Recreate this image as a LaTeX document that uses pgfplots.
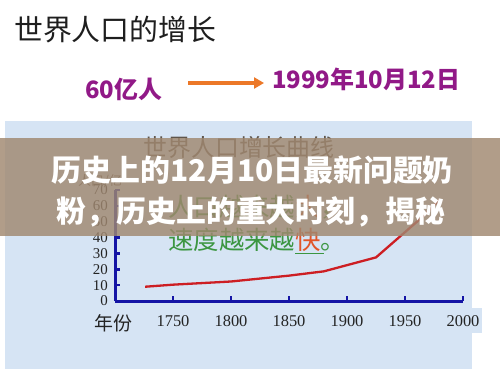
\documentclass[border=0pt]{standalone}
\usepackage{pgfplots}
\pgfplotsset{compat=1.18}
\usetikzlibrary{arrows.meta}
\usepackage{fontspec}
\newfontfamily\cjk{Noto Sans CJK SC}
\newfontfamily\serif{Liberation Serif}
\definecolor{panelblue}{RGB}{214,228,244}
\definecolor{bandc}{RGB}{160,136,112}
\definecolor{mag}{RGB}{145,25,135}
\definecolor{arrowor}{RGB}{236,120,40}
\definecolor{axisblue}{RGB}{20,20,165}
\definecolor{curvered}{RGB}{205,30,35}
\definecolor{greentxt}{RGB}{60,150,65}
\definecolor{oran}{RGB}{225,85,40}
\definecolor{charttitle}{RGB}{95,85,75}
\definecolor{ticktxt}{RGB}{35,35,35}
\begin{document}
\begin{tikzpicture}[x=1bp,y=1bp]
\useasboundingbox (0,0) rectangle (500,375);
\fill[white] (0,0) rectangle (500,375);
% light blue panel
\fill[panelblue] (5,6) rectangle (472,254);
\fill[panelblue] (472,42) rectangle (482,67);
% top texts
\node[anchor=west, inner sep=0pt, text={rgb,255:red,30;green,30;blue,30}, font=\cjk\fontsize{29}{29}\selectfont] at (14,345) {世界人口的增长};
\node[anchor=west, inner sep=0pt, text=mag, font=\cjk\bfseries\fontsize{24}{24}\selectfont] at (85,286) {60亿人};
\draw[arrowor, line width=3.5bp, -{Triangle[length=10bp,width=11bp]}] (188,292) -- (264,292);
\node[anchor=west, inner sep=0pt, text=mag, font=\cjk\bfseries\fontsize{24}{24}\selectfont] at (272,296) {1999年10月12日};
% chart title
\node[inner sep=0pt, text=charttitle, font=\cjk\fontsize{24}{24}\selectfont] at (239,228) {世界人口增长曲线};
\node[inner sep=0pt, text=charttitle, font=\cjk\fontsize{13}{13}\selectfont] at (100,194) {人口/亿};
% chart
\begin{axis}[
  at={(115bp,74bp)}, anchor=origin,
  scale only axis, width=348bp, height=111bp,
  xmin=1700, xmax=2000, ymin=0, ymax=70,
  axis lines=left,
  axis line style={-, draw=axisblue, line width=3bp},
  xtick={1750,1800,1850,1900,1950,2000},
  ytick={0,10,20,30,40,50,60,70},
  tick align=inside,
  major tick length=5bp,
  tick style={draw=axisblue, line width=2.5bp},
  /pgf/number format/assume math mode=true,
  /pgf/number format/1000 sep={},
  xticklabel style={inner sep=0pt, yshift=-14bp, font=\serif\fontsize{16.5}{16.5}\selectfont, text=ticktxt},
  yticklabel style={inner sep=0pt, xshift=-7bp, font=\serif\fontsize{15}{15}\selectfont, text=ticktxt},
  clip=false,
]
\addplot[curvered, line width=2.3bp] coordinates {
  (1726,9) (1750,10.3) (1800,12.3) (1850,16) (1880,18.7) (1925,27.5) (1965,53) (1980,64)
};
\end{axis}
\node[inner sep=0pt, text=ticktxt, font=\cjk\fontsize{19}{19}\selectfont] at (113,52) {年份};
% green annotation texts
\node[anchor=west, inner sep=0pt, font=\cjk\fontsize{25.5}{25.5}\selectfont] at (168,168) {\textcolor{greentxt}{人口越来越}\textcolor{oran}{大}\textcolor{greentxt}{，}};
\node[anchor=west, inner sep=0pt, font=\cjk\fontsize{25.5}{25.5}\selectfont] at (168,135) {\textcolor{greentxt}{速度越来越}\textcolor{oran}{快}\textcolor{greentxt}{。}};
\draw[greentxt, line width=1bp] (295,122) -- (324,122);
% overlay band
\fill[bandc, opacity=0.82] (0,139) rectangle (500,237);
\node[inner sep=0pt, text=white, font=\cjk\bfseries\fontsize{30}{30}\selectfont] at (252,205) {历史上的12月10日最新问题奶};
\node[inner sep=0pt, text=white, font=\cjk\bfseries\fontsize{30}{30}\selectfont] at (251,163) {粉，历史上的重大时刻，揭秘};
\end{tikzpicture}
\end{document}
